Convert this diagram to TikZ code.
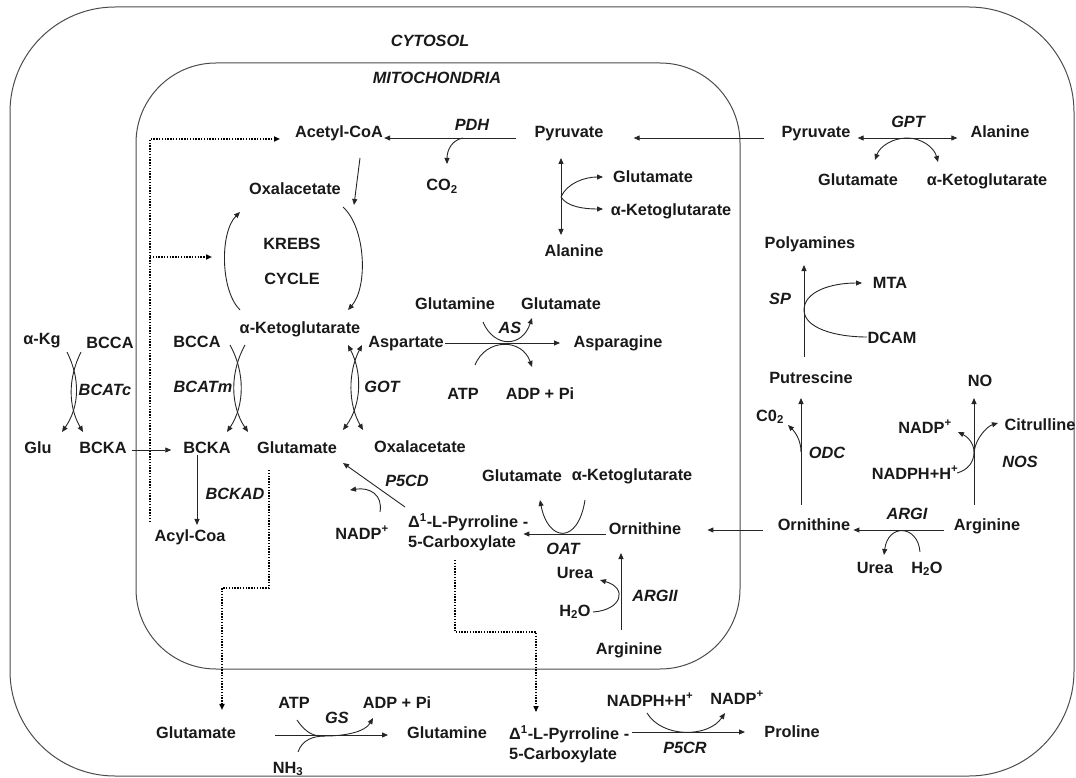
\documentclass[tikz,border=0pt]{standalone}
\usepackage{fontspec}
\setmainfont{Liberation Sans}
\usetikzlibrary{arrows.meta}
\newcommand\fsz{\fontsize{16.3}{20}\selectfont}
\begin{document}
\begin{tikzpicture}[x=1pt,y=-1pt,
  t/.style={font=\fsz\bfseries, inner sep=0pt, anchor=base, text=black!90},
  en/.style={font=\fsz\bfseries\itshape, inner sep=0pt, anchor=base, text=black!90},
  ln/.style={draw=black!85, line width=0.9pt},
  ar/.style={ln, -{Triangle[length=6pt,width=5pt]}},
  dar/.style={ln, {Triangle[length=6pt,width=5pt]}-{Triangle[length=6pt,width=5pt]}},
  dots/.style={draw=black, line width=1.5pt, dash pattern=on 1.4pt off 1.4pt, -{Triangle[length=6pt,width=5pt]}},
  box/.style={draw=black!70, line width=1pt}]
\useasboundingbox (0,0) rectangle (1076,778);
% compartments
\draw[box, rounded corners=105] (10,7) rectangle (1074,776);
\draw[box, rounded corners=80] (136,63) rectangle (740,669);
\node[en] (cyto) at (430,47) {CYTOSOL};
\node[en] (mito) at (437,84) {MITOCHONDRIA};
% top
\node[t] (acoa) at (339,138) {Acetyl-CoA};
\node[en] (pdh) at (472,131) {PDH};
\node[t] (pyrm) at (569,138) {Pyruvate};
\node[t] (co2) at (442,191) {CO\textsubscript{2}};
\node[t] (glum1) at (653,183) {Glutamate};
\node[t] (akgm1) at (671,216) {α-Ketoglutarate};
\node[t] (alam) at (574,256) {Alanine};
\node[t] (oxa) at (295,195) {Oxalacetate};
\node[t] (krebs) at (292,249) {KREBS};
\node[t] (cycle) at (292,284) {CYCLE};
\node[t] (akgk) at (300,333) {α-Ketoglutarate};
\node[t] (pyrc) at (816,138) {Pyruvate};
\node[en] (gpt) at (908,128) {GPT};
\node[t] (alac) at (1000,138) {Alanine};
\node[t] (gluc1) at (858,186) {Glutamate};
\node[t] (akgc1) at (987,186) {α-Ketoglutarate};
\node[t] (poly) at (810,248) {Polyamines};
\node[t] (mta) at (890,288) {MTA};
\node[en] (sp) at (780,304) {SP};
\node[t] (dcam) at (892,343) {DCAM};
\node[t] (putr) at (811,383) {Putrescine};
\node[t] (no) at (980,386) {NO};
\node[t] (c02) at (770,421) {C0\textsubscript{2}};
\node[en] (odc) at (827,458) {ODC};
\node[t] (nadpa) at (925,433) {NADP\textsuperscript{+}};
\node[t] (citr) at (1040,430) {Citrulline};
\node[t] (nadph) at (915,479) {NADPH+H\textsuperscript{+}};
\node[en] (nos) at (1020,467) {NOS};
\node[t] (ornc) at (814,530) {Ornithine};
\node[en] (argi) at (907,519) {ARGI};
\node[t] (argc) at (987,530) {Arginine};
\node[t] (ureac) at (875,573) {Urea};
\node[t] (h2oc) at (927,573) {H\textsubscript{2}O};
% middle mitochondria
\node[t] (glnas) at (455,309) {Glutamine};
\node[t] (gluas) at (561,309) {Glutamate};
\node[en] (as) at (510,333) {AS};
\node[t] (asp) at (406,347) {Aspartate};
\node[t] (asn) at (618,347) {Asparagine};
\node[t] (atpas) at (463,399) {ATP};
\node[t] (adpas) at (540,399) {ADP + Pi};
\node[en] (got) at (382,392) {GOT};
\node[t] (bccam) at (197,347) {BCCA};
\node[en] (bcatm) at (203,392) {BCATm};
\node[t] (bckam) at (207,453) {BCKA};
\node[t] (glum2) at (297,453) {Glutamate};
\node[t] (oxam) at (420,452) {Oxalacetate};
\node[en] (p5cd) at (407,486) {P5CD};
\node[t] (nadpb) at (362,539) {NADP\textsuperscript{+}};
\node[t, anchor=west, align=left] (p5cm) at (408,532) {Δ\textsuperscript{1}-L-Pyrroline -\\5-Carboxylate};
\node[t] (gluoat) at (522,481) {Glutamate};
\node[t] (akgoat) at (632,480) {α-Ketoglutarate};
\node[t] (ornm) at (645,534) {Ornithine};
\node[en] (oat) at (563,554) {OAT};
\node[t] (ueram) at (575,578) {Urea};
\node[en] (argii) at (655,601) {ARGII};
\node[t] (h2om) at (575,616) {H\textsubscript{2}O};
\node[t] (argm) at (629,654) {Arginine};
\node[en] (bckad) at (235,499) {BCKAD};
\node[t] (acyl) at (190,541) {Acyl-Coa};
% left cytosol
\node[t] (akg) at (42,344) {α-Kg};
\node[t] (bccac) at (110,348) {BCCA};
\node[en] (bcatc) at (105,395) {BCATc};
\node[t] (glu) at (38,453) {Glu};
\node[t] (bckac) at (103,453) {BCKA};
% bottom
\node[t] (glub) at (196,738) {Glutamate};
\node[t] (atpb) at (294,708) {ATP};
\node[en] (gs) at (337,723) {GS};
\node[t] (adpb) at (397,708) {ADP + Pi};
\node[t] (glnb) at (447,738) {Glutamine};
\node[t] (nh3) at (288,773) {NH\textsubscript{3}};
\node[t, anchor=west, align=left] (p5cb) at (509,744) {Δ\textsuperscript{1}-L-Pyrroline -\\5-Carboxylate};
\node[t] (nadphb) at (650,706) {NADPH+H\textsuperscript{+}};
\node[t] (nadpc) at (737,704) {NADP\textsuperscript{+}};
\node[t] (prol) at (792,737) {Proline};
\node[en] (p5cr) at (685,753) {P5CR};

% ---- connectors ----
% pyruvate transport and PDH
\draw[ar] ([xshift=-17pt]pyrc.base west) -- ([xshift=30pt]pyrm.base east);
\draw[ar] ([xshift=-18pt]pyrm.base west) -- ([xshift=1pt]acoa.base east);
\coordinate (pdhb) at (463,138);
\coordinate (co2t) at (447,164);
\draw[ar] (pdhb) .. controls (452,140) and (447,150) .. (co2t);
% acetyl-CoA into cycle, Krebs arcs
\coordinate (acin) at (360,158);
\coordinate (acout) at (354,205);
\draw[ar] (acin) -- (acout);
\coordinate (kr1) at (343,207);
\coordinate (kr2) at (348,310);
\coordinate (kl1) at (240,310);
\coordinate (kl2) at (240,212);
\draw[ar] (kr1) .. controls (366,228) and (368,287) .. (kr2);
\draw[ar] (kl1) .. controls (220,290) and (220,232) .. (kl2);
% dotted feed lines
\coordinate (dl0) at (150,522);
\coordinate (dl1) at (150,139);
\coordinate (dl2) at (280,139);
\coordinate (dl3) at (150,257);
\coordinate (dl4) at (212,257);
\draw[dots] (dl0) -- (dl1) -- (dl2);
\draw[dots] (dl3) -- (dl4);
% pyruvate / alanine (mito)
\coordinate (pa1) at (561,158);
\coordinate (pa2) at (561,235);
\coordinate (pa3) at (561,197);
\coordinate (pa4) at (603,177);
\coordinate (pa5) at (603,209);
\draw[dar] (pa1) -- (pa2);
\draw[ar] (pa3) .. controls (567,183) and (585,177) .. (pa4);
\draw[ar] (pa3) .. controls (567,207) and (585,209) .. (pa5);
% GPT
\draw[dar] ([xshift=7pt]pyrc.base east) -- ([xshift=-13pt]alac.base west);
\coordinate (gp0) at (907,138);
\coordinate (gp1) at (875,160);
\coordinate (gp2) at (938,162);
\draw[ar] (gp0) .. controls (893,138) and (880,146) .. (gp1);
\draw[ar] (gp0) .. controls (921,138) and (934,147) .. (gp2);
% SP
\coordinate (sp1) at (804,357);
\coordinate (sp2) at (804,265);
\coordinate (sp3) at (867,337);
\coordinate (sp4) at (862,283);
\draw[ar] (sp1) -- (sp2);
\draw[ar] (sp3) .. controls (835,337) and (804,328) .. (804,310) .. controls (804,292) and (830,283) .. (sp4);
% ODC
\coordinate (od1) at (801,505);
\coordinate (od2) at (801,398);
\coordinate (od3) at (801,452);
\coordinate (od4) at (788,425);
\draw[ar] (od1) -- (od2);
\draw[ar] (od3) .. controls (801,440) and (795,432) .. (od4);
% NOS
\coordinate (no1) at (974,505);
\coordinate (no2) at (974,398);
\coordinate (no3) at (957,473);
\coordinate (no4) at (974,452);
\coordinate (no5) at (958,432);
\coordinate (no6) at (998,423);
\draw[ar] (no1) -- (no2);
\draw[ln] (no3) .. controls (968,470) and (974,462) .. (no4);
\draw[ar] (no4) .. controls (974,442) and (966,436) .. (no5);
\draw[ar] (no4) .. controls (976,437) and (988,426) .. (no6);
% ARGI
\draw[ar] ([xshift=-10pt]argc.base west) -- ([xshift=3pt]ornc.base east);
\coordinate (ag1) at (920,552);
\coordinate (ag2) at (884,555);
\draw[ar] (ag1) .. controls (918,525) and (888,523) .. (ag2);
% ornithine into mitochondria
\draw[ar] ([xshift=-15pt]ornc.base west) -- ([xshift=26pt]ornm.base east |- ornc.base west);
% OAT
\draw[ar] ([xshift=-3pt]ornm.base west) -- ([xshift=-5pt]p5cm.east |- ornm.base west);
\coordinate (oa1) at (585,500);
\coordinate (oa2) at (540,500);
\draw[ar] (oa1) .. controls (578,545) and (548,542) .. (oa2);
% P5CD
\coordinate (pc1) at (405,507);
\coordinate (pc2) at (343,463);
\coordinate (pc3) at (380,512);
\coordinate (pc4) at (350,490);
\draw[ar] (pc1) -- (pc2);
\draw[ar] (pc3) .. controls (383,495) and (370,487) .. (pc4);
% GOT
\coordinate (go1) at (348,345);
\coordinate (go2) at (343,430);
\coordinate (go3) at (362,345);
\coordinate (go4) at (363,430);
\draw[dar] (go1) .. controls (362,372) and (362,404) .. (go2);
\draw[dar] (go3) .. controls (348,372) and (348,404) .. (go4);
% BCATm
\coordinate (bm1) at (230,345);
\coordinate (bm2) at (227,432);
\coordinate (bm3) at (245,345);
\coordinate (bm4) at (248,432);
\draw[ar] (bm1) .. controls (245,372) and (245,405) .. (bm2);
\draw[ar] (bm3) .. controls (230,372) and (230,405) .. (bm4);
% BCATc
\coordinate (bc1) at (67,352);
\coordinate (bc2) at (62,432);
\coordinate (bc3) at (81,352);
\coordinate (bc4) at (83,432);
\draw[ar] (bc1) .. controls (80,378) and (80,406) .. (bc2);
\draw[ar] (bc3) .. controls (68,378) and (68,406) .. (bc4);
% BCKA transport, BCKAD
\draw[ar] ([xshift=5pt,yshift=3pt]bckac.base east) -- ([xshift=-12pt,yshift=3pt]bckam.base west);
\draw[ar] ([xshift=-10pt,yshift=-2pt]bckam.south) -- ([xshift=7pt,yshift=4pt]acyl.north);
% dotted exits
\coordinate (dg0) at (269,470);
\coordinate (dg1) at (269,588);
\coordinate (dg2) at (222,588);
\draw[dots] (dg0) -- (dg1) -- (dg2) -- ([xshift=26pt,yshift=16pt]glub.north);
\coordinate (dp0) at (455,560);
\coordinate (dp1) at (455,632);
\coordinate (dp2) at (536,632);
\draw[dots] (dp0) -- (dp1) -- (dp2) -- ([xshift=27pt,yshift=13pt]p5cb.north west);
% AS
\coordinate (as1) at (445,343);
\coordinate (as2) at (560,343);
\draw[ar] (as1) -- (as2);
\coordinate (as3) at (483,322);
\coordinate (as4) at (532,318);
\coordinate (as5) at (475,365);
\coordinate (as6) at (532,367);
\draw[ar] (as3) .. controls (494,348) and (522,348) .. (as4);
\draw[ar] (as5) .. controls (486,338) and (522,338) .. (as6);
% ARGII
\coordinate (a21) at (621,630);
\coordinate (a22) at (621,553);
\coordinate (a23) at (593,612);
\coordinate (a24) at (600,580);
\draw[ar] (a21) -- (a22);
\draw[ar] (a23) .. controls (622,610) and (628,588) .. (a24);
% GS
\coordinate (gs1) at (275,735);
\coordinate (gs2) at (388,735);
\coordinate (gs3) at (297,720);
\coordinate (gs4) at (325,736);
\coordinate (gs5) at (373,718);
\coordinate (gs6) at (298,752);
\draw[ar] (gs1) -- (gs2);
\draw[ar] (gs3) .. controls (308,736) and (316,736) .. (gs4) .. controls (345,736) and (365,732) .. (gs5);
\draw[ln] (gs6) .. controls (302,740) and (313,736) .. (gs4);
% P5CR
\coordinate (pr1) at (632,732);
\coordinate (pr2) at (745,732);
\coordinate (pr3) at (647,713);
\coordinate (pr4) at (725,713);
\draw[ar] (pr1) -- (pr2);
\draw[ar] (pr3) .. controls (662,738) and (708,738) .. (pr4);
\end{tikzpicture}
\end{document}
